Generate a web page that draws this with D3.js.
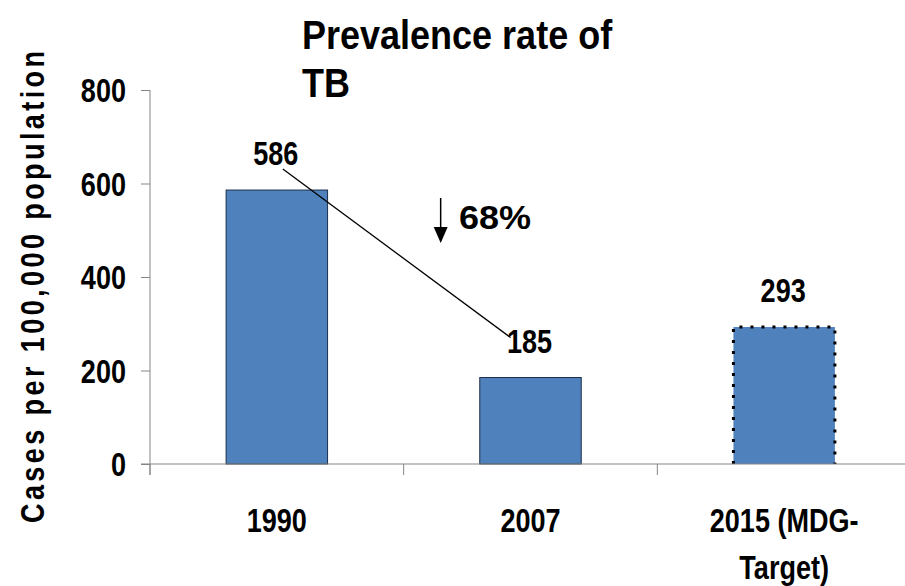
<!DOCTYPE html>
<html>
<head>
<meta charset="utf-8">
<script src="https://cdn.jsdelivr.net/npm/d3@7"></script>
<style>
  html, body { margin: 0; padding: 0; background: #ffffff; }
  svg { display: block; }
  .narrow, .wide { font-family: "Liberation Sans", Arial, sans-serif; font-weight: bold; }
</style>
</head>
<body>
<svg id="chart" width="905" height="586"></svg>
<script>
// Chart data
const categories = ["1990", "2007", "2015 (MDG-Target)"];
const categoryLabelLines = [["1990"], ["2007"], ["2015 (MDG-", "Target)"]];
const values = [586, 185, 293];
const isTarget = [false, false, true];
const yTickValues = [0, 200, 400, 600, 800];
const titleLines = ["Prevalence rate of", "TB"];
const yAxisTitle = "Cases per 100,000 population";
const declineLabel = "68%";

const svg = d3.select("#chart");
const width = 905, height = 586;
const plot = { left: 150, right: 911, top: 90, bottom: 464 };
// horizontal squeeze that gives a narrow face for the condensed labels
const NARROW = 0.82;

const x = d3.scaleBand().domain(categories).range([plot.left, plot.right]).padding(0);
const y = d3.scaleLinear().domain([0, 800]).range([plot.bottom, plot.top]);
const barW = x.bandwidth() * 0.4;
const barX = c => x(c) + (x.bandwidth() - barW) / 2;
const cx = c => x(c) + x.bandwidth() / 2;

const axisColor = "#858585";
const barFill = "#4F81BD";

// Bars
const rows = categories.map((c, i) => ({ c, v: values[i], target: isTarget[i] }));
svg.append("g").selectAll("rect").data(rows).join("rect")
  .attr("x", d => barX(d.c))
  .attr("y", d => y(d.v))
  .attr("width", barW)
  .attr("height", d => y(0) - y(d.v))
  .attr("fill", barFill)
  .attr("stroke", d => d.target ? "none" : "#1c2f4a")
  .attr("stroke-width", 1);

// Dotted outline for the target bar (top and sides)
svg.append("g").selectAll("path").data(rows.filter(d => d.target)).join("path")
  .attr("d", d => {
    const x0 = barX(d.c), x1 = x0 + barW, y0 = y(d.v), y1 = y(0);
    return `M${x0},${y1}L${x0},${y0}L${x1},${y0}L${x1},${y1}`;
  })
  .attr("fill", "none")
  .attr("stroke", "#000")
  .attr("stroke-width", 3)
  .attr("stroke-dasharray", "3,8");

// Y axis
const yAxis = d3.axisLeft(y).tickValues(yTickValues).tickSize(9).tickSizeOuter(0).tickPadding(15);
const gy = svg.append("g").attr("transform", `translate(${plot.left},0)`).call(yAxis);
gy.select(".domain").remove();
gy.selectAll(".tick line").attr("stroke", axisColor);
gy.selectAll(".tick text")
  .attr("class", "narrow")
  .attr("font-size", 33)
  .attr("fill", "#000")
  .attr("x", 0)
  .attr("dy", null)
  .attr("transform", `translate(-24,11.8) scale(${NARROW},1)`);
svg.append("line")
  .attr("x1", plot.left).attr("x2", plot.left)
  .attr("y1", plot.top).attr("y2", plot.bottom + 11)
  .attr("stroke", axisColor);

// X axis line and category boundary ticks
svg.append("line")
  .attr("x1", plot.left - 9).attr("x2", width)
  .attr("y1", plot.bottom).attr("y2", plot.bottom)
  .attr("stroke", axisColor);
const boundaries = categories.map(c => x(c)).concat([x.range()[1]]);
svg.append("g").selectAll("line").data(boundaries).join("line")
  .attr("x1", d => d).attr("x2", d => d)
  .attr("y1", plot.bottom).attr("y2", plot.bottom + 11)
  .attr("stroke", axisColor);

// Category labels
const catG = svg.append("g").selectAll("text").data(categories).join("text")
  .attr("class", "narrow")
  .attr("font-size", 33)
  .attr("text-anchor", "middle")
  .attr("transform", c => `translate(${cx(c)},0) scale(${NARROW},1)`)
  .attr("fill", "#000");
catG.each(function (c, i) {
  d3.select(this).selectAll("tspan").data(categoryLabelLines[i]).join("tspan")
    .attr("x", 0)
    .attr("y", (d, j) => 532.5 + j * 46.5)
    .text(d => d);
});

// Value labels
svg.append("g").selectAll("text").data(rows).join("text")
  .attr("class", "narrow")
  .attr("font-size", 33)
  .attr("text-anchor", "middle")
  .attr("transform", d => `translate(${cx(d.c) - 1},${y(d.v) - 25}) scale(${NARROW},1)`)
  .attr("fill", "#000")
  .text(d => d.v);

// Connector from the 1990 value to the 2007 value
svg.append("line")
  .attr("x1", cx(categories[0]) + 6).attr("y1", y(values[0]) - 21)
  .attr("x2", cx(categories[1]) - 20).attr("y2", y(values[1]) - 40)
  .attr("stroke", "#000")
  .attr("stroke-width", 1.3);

// Decline arrow and percentage
const ax = x(categories[1]) + 37;
svg.append("line")
  .attr("x1", ax).attr("x2", ax)
  .attr("y1", 198).attr("y2", 229)
  .attr("stroke", "#000").attr("stroke-width", 1.5);
svg.append("path")
  .attr("d", `M${ax - 7},227L${ax + 7},227L${ax},243Z`)
  .attr("fill", "#000");
svg.append("text")
  .attr("class", "wide")
  .attr("font-size", 34)
  .attr("transform", `translate(459,229) scale(1.06,1)`)
  .attr("fill", "#000")
  .text(declineLabel);

// Title
svg.append("g").selectAll("text").data(titleLines).join("text")
  .attr("class", "wide")
  .attr("font-size", 40)
  .attr("transform", (d, i) => `translate(302,${48.5 + i * 48}) scale(0.9,1)`)
  .attr("fill", "#000")
  .text(d => d);

// Y axis title
svg.append("text")
  .attr("class", "narrow")
  .attr("font-size", 33)
  .attr("text-anchor", "middle")
  .attr("transform", `translate(43.5,287) rotate(-90) scale(${NARROW},1)`)
  .attr("textLength", 472 / NARROW)
  .attr("lengthAdjust", "spacing")
  .attr("fill", "#000")
  .text(yAxisTitle);
</script>
</body>
</html>
